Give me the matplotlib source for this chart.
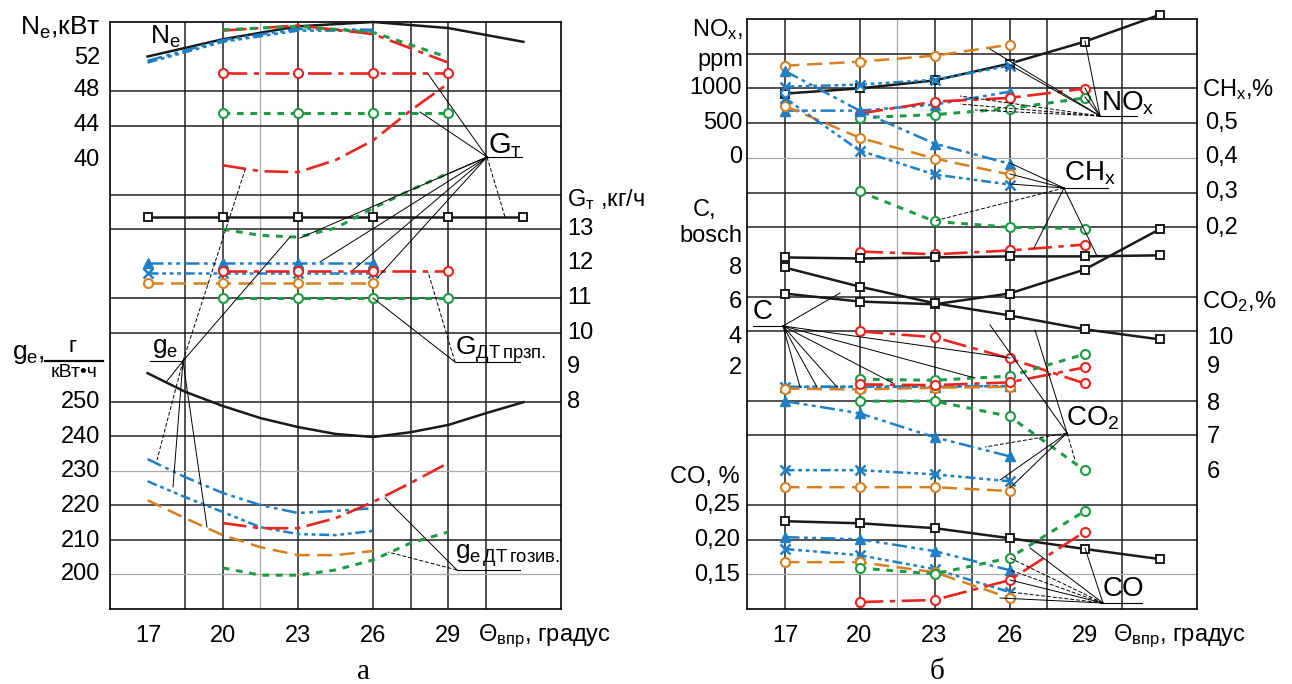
import matplotlib.pyplot as plt
from matplotlib.lines import Line2D

plt.rcParams['font.family'] = ['Liberation Sans', 'DejaVu Sans']
plt.rcParams['mathtext.fontset'] = 'custom'
plt.rcParams['mathtext.rm'] = 'Liberation Sans'
plt.rcParams['mathtext.it'] = 'Liberation Sans:italic'
plt.rcParams['mathtext.bf'] = 'Liberation Sans:bold'

W, H = 1292, 684

# injection advance angle, degrees
th6 = [17, 20, 23, 26, 29, 32]
th_a = [17, 20, 23, 26]
th_b = [20, 23, 26, 29]
thf = [17, 18.5, 20, 21.5, 23, 24.5, 26, 27.5, 29, 30.5, 32]
thf_a = thf[:7]
thf_b = thf[2:9]

# ---------- panel a ----------
ne_black = [52.0, 54.0, 55.5, 56.0, 55.3, 53.7]
ne_btri = [51.5, 53.9, 55.2, 55.1]
ne_bx = [51.3, 53.7, 55.0, 55.0]
ne_red = [55.0, 55.6, 54.6, 51.3]
ne_green = [55.1, 55.5, 54.8, 51.9]

gt_black = [13.35, 13.35, 13.35, 13.35, 13.35, 13.35]
gt_btri = [12.01, 12.01, 12.01, 12.01]
gt_bx = [11.73, 11.73, 11.73, 11.73]
gt_orange = [11.44, 11.44, 11.44, 11.44]
gt_red = [11.78, 11.78, 11.78, 11.78]
gt_green = [11.0, 11.0, 11.0, 11.0]
gt_red_top = [17.51, 17.51, 17.51, 17.51]
gt_green_top = [16.36, 16.36, 16.36, 16.36]
gt_red_curve = [14.85, 14.68, 14.65, 15.0, 15.57, 16.44, 17.22]
gt_green_curve = [13.0, 12.82, 12.77, 13.03, 13.61, 14.13, 14.62]

ge_black = [258.3, 252.9, 248.8, 245.3, 242.7, 240.7, 239.8, 241.2, 243.3, 246.7, 249.9]
ge_btri = [233.4, 228.2, 223.6, 220.1, 217.8, 218.4, 219.2]
ge_bx = [227.0, 222.4, 218.1, 213.7, 211.7, 211.4, 212.6]
ge_orange = [221.5, 216.3, 211.4, 207.9, 205.6, 205.6, 206.8]
ge_red = [214.9, 213.4, 213.4, 216.3, 221.0, 226.5, 232.3]
ge_green = [201.9, 199.8, 199.8, 201.3, 204.2, 209.1, 212.3]

# ---------- panel b ----------
nox_black = [925, 1000, 1115, 1357, 1673, 2060]
nox_orange = [1327, 1385, 1471, 1629]
nox_bx = [1025, 1054, 1125, 1327]
nox_btri = [680, 680, 766, 953]
nox_red = [637, 809, 863, 996]
nox_green = [579, 622, 709, 863]

chx_btri = [0.651, 0.536, 0.441, 0.383]
chx_orange = [0.55, 0.458, 0.398, 0.352]
chx_bx = [0.573, 0.421, 0.352, 0.323]
chx_green = [0.303, 0.217, 0.2, 0.196]
chx_red = [0.13, 0.122, 0.133, 0.15]
chx_black = [0.113, 0.11, 0.113, 0.116, 0.116, 0.119]

c_black = [6.48, 6.02, 5.86, 6.48, 7.86, 10.18]
c_red = [4.3, 3.96, 2.74, 1.3]
c_green = [1.54, 1.48, 1.72, 2.98]
c_btri = [1.1, 1.1, 1.1, 1.15]
c_bx = [1.1, 1.12, 1.12, 1.15]
c_orange = [1.0, 0.95, 1.05, 1.1]

co2_black = [11.84, 11.29, 10.81, 10.46, 10.06, 9.77]
co2_red = [8.47, 8.45, 8.53, 8.96]
co2_green = [7.99, 7.99, 7.55, 6.0]
co2_btri = [7.99, 7.64, 6.95, 6.4]
co2_bx = [6.0, 6.0, 5.88, 5.68]
co2_orange = [5.51, 5.51, 5.51, 5.4]

co_black = [0.2265, 0.2235, 0.2165, 0.202, 0.1865, 0.172]
co_btri = [0.2035, 0.2005, 0.1835, 0.156]
co_bx = [0.1865, 0.1775, 0.1575, 0.1245]
co_orange = [0.1675, 0.1675, 0.153, 0.116]
co_green = [0.159, 0.1505, 0.1735, 0.241]
co_red = [0.11, 0.113, 0.1415, 0.211]

# scales: value -> grid row of the panel
ne_u = lambda v: 15 + (v - 48) / 4
gt_u = lambda v: v - 2
ge_u = lambda v: 6 + (v - 250) / 10
nox_u = lambda v: 13 + v / 500
chx_u = lambda v: 14 + (v - 0.5) * 10
c_u = lambda v: 8.85 + (v - 6) / 2
co2_u = lambda v: 6 + (v - 8)
co_u = lambda v: 2 + (v - 0.2) * 20

BLUE = '#1f7fc4'
STY = {
    'black': dict(color='#1a1a1a', ls='-', lw=1.8, marker='s', ms=5.5, mfc='white', mew=1.4),
    'red': dict(color='#e8251f', ls=(0, (9, 2.5, 2, 2.5)), lw=1.9, marker='o', ms=6.5, mfc='white', mew=1.5),
    'green': dict(color='#1f9a45', ls=(0, (2.2, 2.2)), lw=2.2, marker='o', ms=6.5, mfc='white', mew=1.5),
    'orange': dict(color='#d7801f', ls=(0, (6, 3)), lw=1.8, marker='o', ms=6.5, mfc='white', mew=1.5),
    'btri': dict(color=BLUE, ls=(0, (6, 1.8, 1.5, 1.8, 1.5, 1.8)), lw=1.8, marker='^', ms=6.5, mfc=BLUE),
    'bx': dict(color=BLUE, ls=(0, (4, 1.5, 1.5, 1.5, 1.5, 1.5, 1.5, 1.5)), lw=1.8, marker='x', ms=6.5, mew=1.8),
}

fig = plt.figure(figsize=(W / 100, H / 100), dpi=100)
ax_a = fig.add_axes([110 / W, (H - 609) / H, 451 / W, 587 / H])
ax_b = fig.add_axes([747 / W, (H - 609) / H, 450 / W, 590 / H])


def setup(ax, vlines, vthin, hlines, hthin):
    ax.set_xlim(15.5, 33.5)
    ax.set_ylim(0, 17)
    ax.set_xticks([])
    ax.set_yticks([])
    for s in ax.spines.values():
        s.set_linewidth(1.2)
    for v in vlines:
        ax.axvline(v, color='#222', lw=1.1, zorder=1)
    for v in vthin:
        ax.axvline(v, color='#aaa', lw=0.9, zorder=1)
    for h in hlines:
        ax.axhline(h, color='#222', lw=1.1, zorder=1)
    for h in hthin:
        ax.axhline(h, color='#aaa', lw=0.9, zorder=1)


setup(ax_a, [18.5, 20, 23, 26, 27.5, 29, 30.5], [21.5],
      [15, 14, 12, 11, 9, 8, 6, 5, 3, 2], [4, 1])
setup(ax_b, [17, 20, 23, 24.5, 26, 27.5, 30.5], [21.5],
      [16, 15, 14, 12, 11, 9, 8, 6, 5, 3, 2], [13, 1])


def draw(ax, x, vals, scale, key, markers=True):
    st = dict(STY[key])
    if not markers:
        for k in ('marker', 'ms', 'mfc', 'mew'):
            st.pop(k, None)
    ax.plot(x, [scale(v) for v in vals], clip_on=False, zorder=3, **st)


# panel a
draw(ax_a, th6, ne_black, ne_u, 'black', False)
draw(ax_a, th_a, ne_btri, ne_u, 'btri', False)
draw(ax_a, th_a, ne_bx, ne_u, 'bx', False)
draw(ax_a, th_b, ne_red, ne_u, 'red', False)
draw(ax_a, th_b, ne_green, ne_u, 'green', False)

draw(ax_a, th6, gt_black, gt_u, 'black')
draw(ax_a, th_a, gt_btri, gt_u, 'btri')
draw(ax_a, th_a, gt_bx, gt_u, 'bx')
draw(ax_a, th_a, gt_orange, gt_u, 'orange')
draw(ax_a, th_b, gt_red, gt_u, 'red')
draw(ax_a, th_b, gt_green, gt_u, 'green')
draw(ax_a, th_b, gt_red_top, gt_u, 'red')
draw(ax_a, th_b, gt_green_top, gt_u, 'green')
draw(ax_a, thf_b, gt_red_curve, gt_u, 'red', False)
draw(ax_a, thf_b, gt_green_curve, gt_u, 'green', False)

draw(ax_a, thf, ge_black, ge_u, 'black', False)
draw(ax_a, thf_a, ge_btri, ge_u, 'btri', False)
draw(ax_a, thf_a, ge_bx, ge_u, 'bx', False)
draw(ax_a, thf_a, ge_orange, ge_u, 'orange', False)
draw(ax_a, thf_b, ge_red, ge_u, 'red', False)
draw(ax_a, thf_b, ge_green, ge_u, 'green', False)

# panel b
for x, vals, sc, key in [
    (th6, nox_black, nox_u, 'black'), (th_a, nox_orange, nox_u, 'orange'),
    (th_a, nox_bx, nox_u, 'bx'), (th_a, nox_btri, nox_u, 'btri'),
    (th_b, nox_red, nox_u, 'red'), (th_b, nox_green, nox_u, 'green'),
    (th_a, chx_btri, chx_u, 'btri'), (th_a, chx_orange, chx_u, 'orange'),
    (th_a, chx_bx, chx_u, 'bx'), (th_b, chx_green, chx_u, 'green'),
    (th_b, chx_red, chx_u, 'red'), (th6, chx_black, chx_u, 'black'),
    (th6, c_black, c_u, 'black'), (th_b, c_red, c_u, 'red'),
    (th_b, c_green, c_u, 'green'), (th_a, c_btri, c_u, 'btri'),
    (th_a, c_bx, c_u, 'bx'), (th_a, c_orange, c_u, 'orange'),
    (th6, co2_black, co2_u, 'black'), (th_b, co2_red, co2_u, 'red'),
    (th_b, co2_green, co2_u, 'green'), (th_a, co2_btri, co2_u, 'btri'),
    (th_a, co2_bx, co2_u, 'bx'), (th_a, co2_orange, co2_u, 'orange'),
    (th6, co_black, co_u, 'black'), (th_a, co_btri, co_u, 'btri'),
    (th_a, co_bx, co_u, 'bx'), (th_a, co_orange, co_u, 'orange'),
    (th_b, co_green, co_u, 'green'), (th_b, co_red, co_u, 'red'),
]:
    draw(ax_b, x, vals, sc, key)


# helpers in picture pixels for labels and leader lines
def ftext(x, y, s, size=16, ha='center', **kw):
    fig.text(x / W, 1 - y / H, s, fontsize=size, ha=ha, va='center', **kw)


def fline(x0, y0, x1, y1, lw=0.8, ls='-'):
    fig.add_artist(Line2D([x0 / W, x1 / W], [1 - y0 / H, 1 - y1 / H],
                          transform=fig.transFigure, color='k', lw=lw, ls=ls, zorder=5))


leaders = [
    ((183, 361), [(245, 170, '--'), (290, 237, '-'), (167, 381, '-'), (157, 460, '--'),
                  (173, 487, '-'), (207, 527, '-')]),
    ((487, 157), [(428, 74, '-'), (420, 112, '-'), (505, 217, '--'), (320, 262, '-'),
                  (353, 270, '-'), (378, 277, '-'), (445, 175, '-'), (300, 238, '-')]),
    ((455, 362), [(428, 272, '--'), (373, 298, '-')]),
    ((457, 570), [(385, 498, '-'), (388, 552, '--')]),
    ((1100, 116), [(1085, 41, '-'), (990, 49, '-'), (1010, 65, '-'), (1085, 88, '-'),
                   (1085, 97, '-'), (960, 96, '--'), (960, 104, '--'), (975, 110, '--')]),
    ((1064, 188), [(1010, 163, '-'), (1010, 174, '-'), (1010, 184, '-'), (934, 221, '--'),
                   (1034, 248, '-'), (1097, 256, '-')]),
    ((783, 326), [(840, 293, '-'), (800, 387, '-'), (817, 387, '-'), (837, 387, '-'),
                  (893, 383, '-'), (975, 378, '-'), (1010, 358, '-')]),
    ((1067, 433), [(990, 325, '-'), (1035, 330, '-'), (985, 447, '--'), (1000, 480, '-'),
                   (1010, 488, '-'), (1075, 460, '--')]),
    ((1103, 603), [(1085, 548, '-'), (1030, 548, '-'), (1010, 558, '--'), (1010, 570, '--'),
                   (1010, 580, '-'), (1010, 592, '--'), (1000, 598, '-')]),
]
for (ax0, ay0), targets in leaders:
    for tx, ty, ls in targets:
        fline(ax0, ay0, tx, ty, lw=0.7, ls=(0, (4, 2)) if ls == '--' else '-')

# ---- panel a texts ----
ftext(100, 28, r'N$_\mathrm{e}$,кВт', 19, ha='right')
ftext(150, 37, r'N$_\mathrm{e}$', 19, ha='left')
for v, y in [(52, 58), (48, 90), (44, 125), (40, 160)]:
    ftext(100, y, str(v), 17, ha='right')
ftext(12, 354, r'g$_\mathrm{e}$,', 19, ha='left')
ftext(73, 346, 'г', 16)
fline(45, 361, 103, 361, lw=1.6)
ftext(74, 373, 'кВт•ч', 14)
for v, y in [(250, 402), (240, 437), (230, 471), (220, 506), (210, 541), (200, 574)]:
    ftext(100, y, str(v), 17, ha='right')
ftext(567, 200, r'G$_\mathrm{т}$ ,кг/ч', 17, ha='left')
for v, y in [(13, 229), (12, 263), (11, 298), (10, 333), (9, 367), (8, 402)]:
    ftext(567, y, str(v), 17, ha='left')
for v, x in [(17, 148), (20, 223), (23, 298), (26, 373), (29, 448)]:
    ftext(x, 636, str(v), 17)
ftext(478, 636, r'Θ$_\mathrm{впр}$, градус', 17, ha='left')
ftext(363, 672, 'а', 21, family='Liberation Serif')
ftext(488, 146, r'G$_\mathrm{т}$', 21, ha='left')
fline(487, 157, 522, 157)
ftext(152, 348, r'g$_\mathrm{e}$', 19, ha='left')
fline(150, 361, 183, 361)
ftext(455, 350, r'G$_\mathrm{ДТ\,прзп.}$', 19, ha='left')
fline(455, 362, 520, 362)
ftext(455, 556, r'g$_\mathrm{e\,ДТ\,гозив.}$', 19, ha='left')
fline(457, 570, 520, 570)

# ---- panel b texts ----
ftext(743, 30, r'NO$_\mathrm{x}$,', 17, ha='right')
ftext(743, 60, 'ppm', 17, ha='right')
for v, y in [('1000', 88), ('500', 123), ('0', 157)]:
    ftext(742, y, v, 17, ha='right')
ftext(716, 210, 'C,', 17, ha='right')
ftext(742, 236, 'bosch', 17, ha='right')
for v, y in [(8, 268), (6, 302), (4, 337), (2, 368)]:
    ftext(742, y, str(v), 17, ha='right')
ftext(753, 312, 'C', 20, ha='left')
fline(753, 326, 783, 326)
ftext(740, 477, 'CO, %', 17, ha='right')
for v, y in [('0,25', 505), ('0,20', 540), ('0,15', 575)]:
    ftext(740, y, v, 17, ha='right')
ftext(1202, 90, r'CH$_\mathrm{x}$,%', 17, ha='left')
for v, y in [('0,5', 123), ('0,4', 157), ('0,3', 192), ('0,2', 228)]:
    ftext(1205, y, v, 17, ha='left')
ftext(1202, 302, r'CO$_\mathrm{2}$,%', 17, ha='left')
for v, y in [(10, 338), (9, 367), (8, 404), (7, 437), (6, 472)]:
    ftext(1207, y, str(v), 17, ha='left')
for v, x in [(17, 785), (20, 859), (23, 934), (26, 1010), (29, 1085)]:
    ftext(x, 636, str(v), 17)
ftext(1113, 636, r'Θ$_\mathrm{впр}$, градус', 17, ha='left')
ftext(937, 672, 'б', 21, family='Liberation Serif')
ftext(1101, 103, r'NO$_\mathrm{x}$', 20, ha='left')
fline(1100, 116, 1137, 116)
ftext(1064, 173, r'CH$_\mathrm{x}$', 20, ha='left')
fline(1062, 188, 1108, 188)
ftext(1066, 418, r'CO$_\mathrm{2}$', 20, ha='left')
ftext(1103, 589, 'CO', 20, ha='left')
fline(1100, 603, 1142, 603)

fig.savefig('out.png', dpi=100)
